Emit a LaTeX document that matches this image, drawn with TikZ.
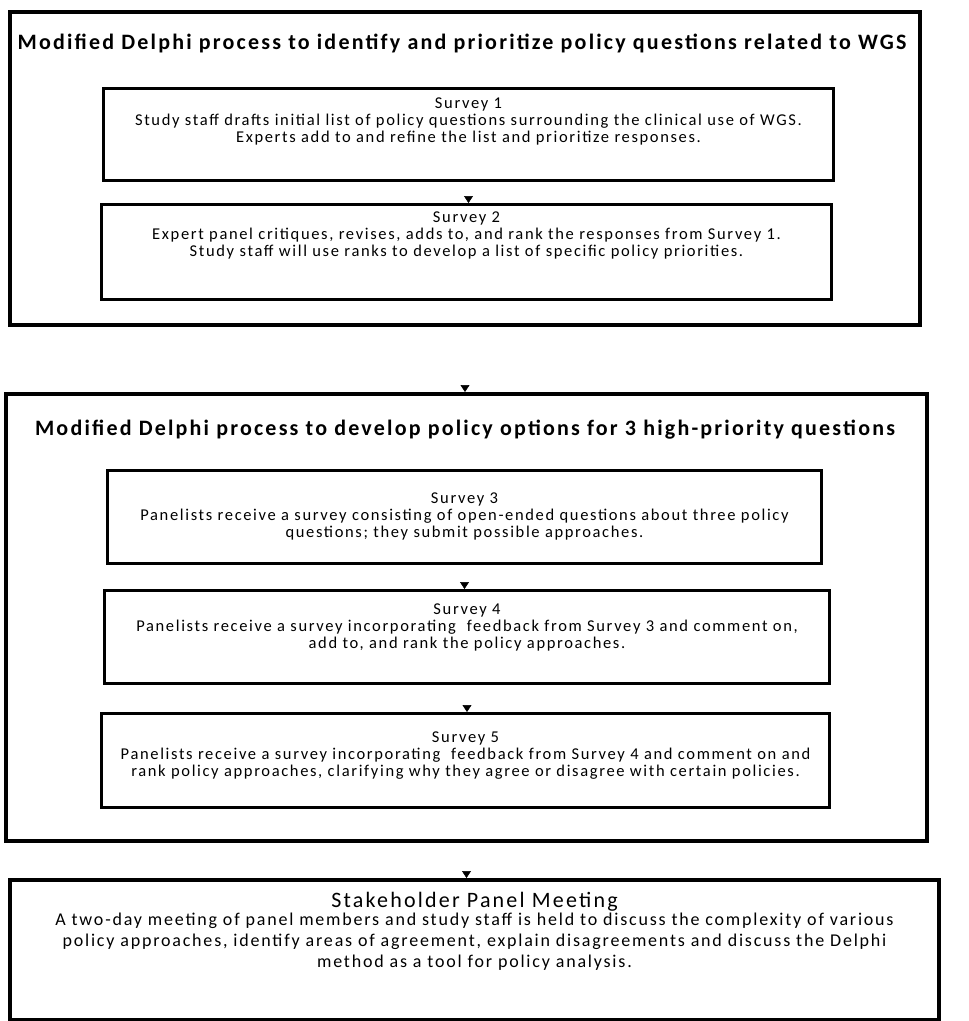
\documentclass[tikz,border=0pt]{standalone}
\usepackage{fontspec}
\setmainfont{Carlito}
\newfontfamily\bodyfam[LetterSpace=10]{Carlito}
\newfontfamily\titlefam[LetterSpace=10]{Carlito}
\newfontfamily\stakefam[LetterSpace=10]{Carlito}
\usetikzlibrary{arrows.meta}
\newcommand{\bxt}[4]{\parbox[c][#2][t]{#1}{\centering\vspace*{#3}#4\par}}
\tikzset{
  outerbox/.style={draw=black, line width=4pt, inner sep=0pt, anchor=north west},
  innerbox/.style={draw=black, line width=3pt, inner sep=0pt, anchor=north west},
  titletext/.style={font=\titlefam\fontsize{22}{24}\selectfont\bfseries, inner sep=0pt},
  flowarrow/.style={draw=white, line width=0.5pt, -{Triangle[color=black,width=9pt,length=7pt]}},
  bodyfont/.style={font=\bodyfam\fontsize{16.5}{17}\selectfont}
}
\begin{document}
\begin{tikzpicture}[x=1pt,y=-1pt]
\useasboundingbox (0,0) rectangle (969,1021);
% outer 1
\node[outerbox] (o1) at (8,10) {\parbox[c][313pt][t]{910pt}{\mbox{}}};
\node[titletext] (t1) at (462,43) {Modified Delphi process to identify and prioritize policy questions related to WGS};
\node[innerbox, bodyfont] (s1) at (102,87) {\bxt{730pt}{92pt}{9pt}{Survey 1\\Study staff drafts initial list of policy questions surrounding the clinical use of WGS.\\Experts add to and refine the list and prioritize responses.}};
\node[innerbox, bodyfont] (s2) at (100,203) {\bxt{730pt}{95pt}{7pt}{Survey 2\\Expert panel critiques, revises, adds to, and rank the responses from Survey 1.\\Study staff will use ranks to develop a list of specific policy priorities.}};
% outer 2
\node[outerbox] (o2) at (4,392) {\parbox[c][447pt][t]{921pt}{\mbox{}}};
\node[titletext] (t2) at (465,430) {Modified Delphi process to develop policy options for 3 high-priority questions};
\node[innerbox, bodyfont] (s3) at (106,469) {\bxt{714pt}{93pt}{22pt}{Survey 3\\Panelists receive a survey consisting of open-ended questions about three policy\\questions; they submit possible approaches.}};
\node[innerbox, bodyfont] (s4) at (103,589) {\bxt{725pt}{93pt}{13pt}{Survey 4\\Panelists receive a survey incorporating\ \ feedback from Survey 3 and comment on,\\add to, and rank the policy approaches.}};
\node[innerbox, bodyfont] (s5) at (100,712) {\bxt{728pt}{94pt}{18pt}{Survey 5\\Panelists receive a survey incorporating\ \ feedback from Survey 4 and comment on and\\rank policy approaches, clarifying why they agree or disagree with certain policies.}};
% outer 3
\node[outerbox] (o3) at (8,878) {\bxt{929pt}{140pt}{12pt}{{\stakefam\fontsize{22}{24}\selectfont Stakeholder Panel Meeting}\\[-3pt]
{\stakefam\fontsize{18}{21}\selectfont A two-day meeting of panel members and study staff is held to discuss the complexity of various\\policy approaches, identify areas of agreement, explain disagreements and discuss the Delphi\\method as a tool for policy analysis.\par}}};
% arrows
\draw[flowarrow] (s1.south) -- (s1.south |- s2.north);
\draw[flowarrow] (o1.south) -- (o1.south |- o2.north);
\draw[flowarrow] (s3.south) -- (s3.south |- s4.north);
\draw[flowarrow] (s4.south) -- (s4.south |- s5.north);
\draw[flowarrow] (o2.south) -- (o2.south |- o3.north);
\end{tikzpicture}
\end{document}
